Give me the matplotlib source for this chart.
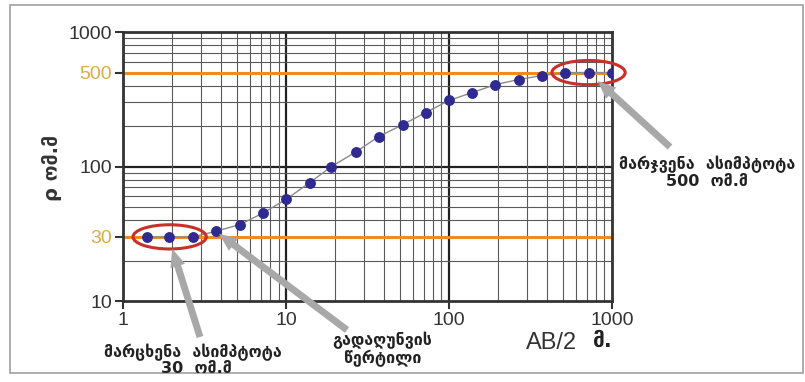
import matplotlib
matplotlib.use('Agg')
import matplotlib.pyplot as plt
import numpy as np
from matplotlib.patches import Ellipse, Rectangle
from matplotlib.ticker import FixedLocator, LogLocator, NullFormatter

# data
ab2 = [1.4, 1.9, 2.7, 3.7, 5.2, 7.2, 10, 14, 19, 27, 37, 52, 72, 100, 139, 193, 268, 373, 518, 720, 1000]
rho = [30, 30, 30, 33, 37, 45, 57, 76, 100, 129, 167, 205, 252, 310, 355, 407, 444, 475, 500, 500, 500]
left_asym = 30
right_asym = 500
y_ticks = [10, 30, 100, 500, 1000]
x_ticks = [1, 10, 100, 1000]

geo = ['DejaVu Sans']
num = ['Liberation Sans', 'DejaVu Sans']

fig = plt.figure(figsize=(8.05, 3.82), dpi=100)
ax = fig.add_axes([0.153, 0.212, 0.607, 0.704])
ax.set_xscale('log')
ax.set_yscale('log')
ax.set_xlim(1, 1000)
ax.set_ylim(10, 1000)

# grid
ax.xaxis.set_minor_locator(LogLocator(base=10, subs=np.arange(2, 10)))
ax.yaxis.set_minor_locator(LogLocator(base=10, subs=np.arange(2, 10)))
ax.xaxis.set_minor_formatter(NullFormatter())
ax.yaxis.set_minor_formatter(NullFormatter())
ax.grid(which='minor', color='#5a5a5a', lw=0.8)
for v in [10, 100]:
    ax.axvline(v, color='#222222', lw=1.6, zorder=1)
ax.axhline(100, color='#222222', lw=1.6, zorder=1)
ax.tick_params(which='minor', length=0)

# asymptote lines
ax.axhline(left_asym, color='#f08c1e', lw=2.2, zorder=2)
ax.axhline(right_asym, color='#f08c1e', lw=2.2, zorder=2)

# curve
ax.plot(ab2, rho, color='#8a8a8a', lw=1.0, zorder=3)
ax.plot(ab2, rho, 'o', color='#2e2a8f', ms=6.8, mec='#2e2a8f', zorder=4, linestyle='none')

for s in ax.spines.values():
    s.set_color('#333333')
    s.set_linewidth(2)

ax.yaxis.set_major_locator(FixedLocator(y_ticks))
ax.set_yticklabels([str(v) for v in y_ticks], family=num, fontsize=14)
for lab, v in zip(ax.get_yticklabels(), y_ticks):
    lab.set_color('#e0aa45' if v in (left_asym, right_asym) else '#333333')
ax.xaxis.set_major_locator(FixedLocator(x_ticks))
ax.set_xticklabels([str(v) for v in x_ticks], family=num, fontsize=14, color='#333333')
ax.tick_params(which='major', length=6, width=1.5, color='#333333', pad=2)

# ellipses around the asymptote points
to_ax = ax.transData + ax.transAxes.inverted()
for xs, yv in [(ab2[:3], left_asym), (ab2[-3:], right_asym)]:
    xc = 10 ** np.mean(np.log10(xs))
    cx, cy = to_ax.transform((xc, yv))
    ax.add_patch(Ellipse((cx, cy), 0.15, 0.09, transform=ax.transAxes,
                         fill=False, ec='#c8302a', lw=2.2, zorder=5, clip_on=False))

# arrows
arrow = dict(arrowstyle='simple,head_width=1.1,head_length=1.3,tail_width=0.5',
             fc='#a8a8a8', ec='none')
ax.annotate('', xy=(ab2[1], left_asym), xycoords='data', xytext=(200, 45),
            textcoords='figure pixels', arrowprops=dict(arrow, shrinkB=9, shrinkA=0), zorder=6)
ax.annotate('', xy=(ab2[3], rho[3]), xycoords='data', xytext=(347, 52),
            textcoords='figure pixels', arrowprops=dict(arrow, shrinkB=3, shrinkA=0), zorder=6)
ax.annotate('', xy=(ab2[-2], right_asym), xycoords='data', xytext=(670, 235),
            textcoords='figure pixels', arrowprops=dict(arrow, shrinkB=9, shrinkA=0), zorder=6)

W, H = 805, 382


def ftext(x, y, s, va='baseline', **kw):
    fig.text(x / W, 1 - y / H, s, ha='center', va=va, **kw)


lab_kw = dict(family=geo, fontsize=11.5, fontweight='bold', color='#222222')
ftext(193, 357, 'მარცხენა  ასიმპტოტა', **lab_kw)
ftext(196, 373, '30  ომ.მ', **lab_kw)
ftext(382, 345, 'გადაღუნვის', **lab_kw)
ftext(383, 363, 'წერტილი', **lab_kw)
ftext(707, 169, 'მარჯვენა  ასიმპტოტა', **lab_kw)
ftext(707, 186, '500  ომ.მ', **lab_kw)

# axis titles
fig.text(52 / W, 1 - 168 / H, 'ρ ომ.მ', rotation=90, ha='center', va='center',
         family=geo, fontsize=14, fontweight='bold', color='#333333')
ftext(552, 343, 'AB/2', va='center', family=num, fontsize=17, color='#333333')
ftext(603, 341, 'მ.', va='center', family=geo, fontsize=15, fontweight='bold', color='#222222')

# outer frame
fig.patches.append(Rectangle((10 / W, 1 - 373 / H), 793 / W, 368 / H, transform=fig.transFigure,
                             fill=False, ec='#a0a0a0', lw=1.2))

fig.savefig('out.png', dpi=100)
